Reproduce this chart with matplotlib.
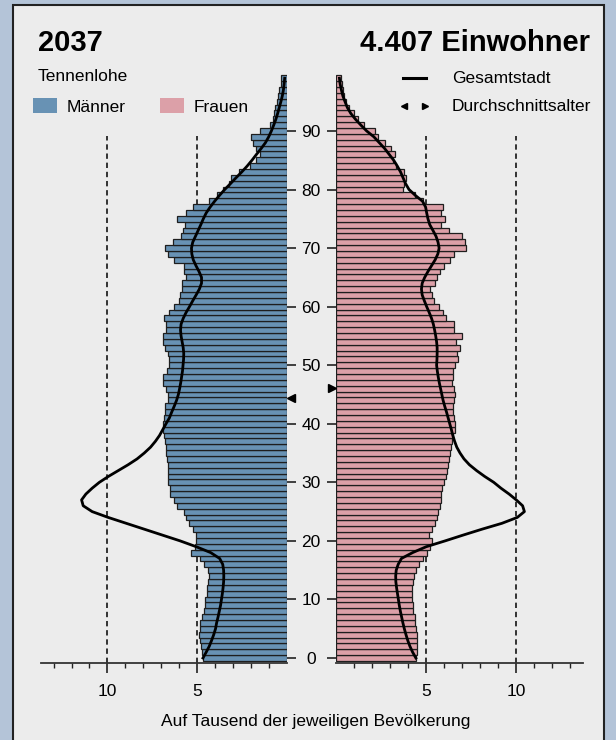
import matplotlib
matplotlib.use("Agg")
import matplotlib.pyplot as plt
import numpy as np
from matplotlib.patches import Rectangle

plt.rcParams['font.family'] = ['Liberation Sans', 'DejaVu Sans']

# ages 0..99
ages = list(range(0, 100))

# Tennenlohe 2037, per 1000 inhabitants
maenner = [4.68, 4.72, 4.78, 4.83, 4.91, 4.87, 4.87, 4.76, 4.63, 4.59,
           4.57, 4.46, 4.46, 4.40, 4.35, 4.38, 4.65, 4.83, 5.34, 5.15,
           5.09, 5.06, 5.24, 5.47, 5.65, 5.76, 6.10, 6.29, 6.51, 6.51,
           6.62, 6.62, 6.64, 6.64, 6.70, 6.74, 6.74, 6.77, 6.83, 6.88,
           6.88, 6.85, 6.77, 6.77, 6.64, 6.64, 6.74, 6.88, 6.92, 6.70,
           6.59, 6.59, 6.62, 6.81, 6.92, 6.88, 6.73, 6.73, 6.83, 6.59,
           6.29, 5.99, 5.95, 5.84, 5.86, 5.62, 5.71, 5.75, 6.27, 6.62,
           6.77, 6.36, 5.90, 5.80, 5.67, 6.14, 5.62, 5.24, 4.37, 3.90,
           3.56, 3.23, 3.10, 2.67, 2.07, 1.75, 1.51, 1.70, 1.88, 2.03,
           1.51, 0.95, 0.76, 0.71, 0.67, 0.58, 0.50, 0.43, 0.35, 0.32]

frauen = [4.46, 4.50, 4.50, 4.50, 4.50, 4.46, 4.37, 4.37, 4.28, 4.28,
          4.24, 4.24, 4.24, 4.28, 4.31, 4.43, 4.61, 4.80, 5.02, 5.20,
          5.30, 5.17, 5.35, 5.50, 5.61, 5.67, 5.76, 5.81, 5.81, 5.87,
          5.98, 6.09, 6.17, 6.22, 6.28, 6.31, 6.39, 6.43, 6.50, 6.61,
          6.61, 6.54, 6.50, 6.50, 6.54, 6.59, 6.57, 6.46, 6.50, 6.50,
          6.60, 6.77, 6.69, 6.88, 6.65, 6.99, 6.54, 6.54, 6.10, 5.95,
          5.72, 5.43, 5.35, 5.20, 5.48, 5.61, 5.76, 5.99, 6.32, 6.54,
          7.21, 7.16, 7.01, 6.26, 5.80, 6.04, 5.82, 5.95, 4.83, 4.37,
          3.72, 3.75, 3.87, 3.75, 3.35, 3.16, 3.25, 3.03, 2.70, 2.32,
          2.16, 1.54, 1.21, 1.02, 0.74, 0.56, 0.46, 0.41, 0.33, 0.28]

# Gesamtstadt reference
stadt_m = [4.68, 4.50, 4.33, 4.20, 4.08, 3.98, 3.92, 3.84, 3.77, 3.70,
           3.65, 3.60, 3.56, 3.53, 3.52, 3.53, 3.58, 3.75, 4.25, 5.05,
           5.95, 6.95, 7.95, 8.95, 9.95, 10.85, 11.35, 11.44, 11.20, 10.85,
           10.45, 9.95, 9.40, 8.85, 8.35, 7.95, 7.60, 7.33, 7.10, 6.92,
           6.74, 6.55, 6.42, 6.28, 6.15, 6.05, 5.98, 5.92, 5.87, 5.82,
           5.79, 5.76, 5.75, 5.78, 5.84, 5.90, 5.93, 5.90, 5.78, 5.62,
           5.43, 5.25, 5.06, 4.88, 4.76, 4.76, 4.90, 5.07, 5.22, 5.30,
           5.32, 5.25, 5.10, 4.95, 4.80, 4.66, 4.50, 4.28, 4.03, 3.76,
           3.47, 3.15, 2.84, 2.52, 2.22, 1.95, 1.70, 1.44, 1.20, 1.02,
           0.87, 0.74, 0.62, 0.52, 0.43, 0.34, 0.26, 0.20, 0.16, 0.13]

stadt_w = [4.43, 4.25, 4.10, 3.98, 3.88, 3.79, 3.71, 3.64, 3.57, 3.51,
           3.46, 3.41, 3.36, 3.32, 3.31, 3.34, 3.45, 3.63, 4.25, 5.00,
           6.05, 7.06, 8.10, 9.20, 10.05, 10.45, 10.35, 10.00, 9.60, 9.15,
           8.75, 8.25, 7.80, 7.40, 7.10, 6.88, 6.70, 6.58, 6.48, 6.40,
           6.31, 6.22, 6.13, 6.03, 5.94, 5.87, 5.80, 5.73, 5.67, 5.62,
           5.58, 5.60, 5.61, 5.61, 5.58, 5.53, 5.47, 5.40, 5.30, 5.17,
           5.03, 4.90, 4.78, 4.74, 4.78, 4.92, 5.10, 5.30, 5.50, 5.65,
           5.72, 5.66, 5.55, 5.38, 5.20, 5.10, 5.03, 4.97, 4.80, 4.40,
           4.05, 3.86, 3.72, 3.58, 3.40, 3.20, 2.95, 2.70, 2.40, 2.10,
           1.70, 1.38, 1.08, 0.82, 0.63, 0.50, 0.38, 0.30, 0.23, 0.19]

avg_m = 44.45
avg_w = 46.05
year = "2037"
einwohner = "4.407 Einwohner"
stadtteil = "Tennenlohe"

blue = '#6892b4'
pink = '#dca0a8'
W, H = 616, 740

fig = plt.figure(figsize=(W / 100, H / 100), dpi=100, facecolor='#b4c4d8')

# background panel + header / legend drawn in pixel coords
bg = fig.add_axes([0, 0, 1, 1])
bg.set_xlim(0, W)
bg.set_ylim(H, 0)
bg.axis('off')
bg.add_patch(Rectangle((13, 5), 591, 745, facecolor='#ececec', edgecolor='#222222', lw=1.5))
bg.text(38, 50.7, year, fontsize=21, fontweight='bold', va='baseline')
bg.text(590, 50.7, einwohner, fontsize=21, fontweight='bold', va='baseline', ha='right')
bg.text(38, 81, stadtteil, fontsize=12.5, va='baseline')
bg.add_patch(Rectangle((33, 98), 24, 15, facecolor=blue, edgecolor='none'))
bg.text(67, 111.7, "Männer", fontsize=12.5, va='baseline')
bg.add_patch(Rectangle((160, 98), 24, 15, facecolor=pink, edgecolor='none'))
bg.text(194, 111.7, "Frauen", fontsize=12.5, va='baseline')
bg.plot([403, 426], [77.5, 77.5], color='black', lw=2.2)
bg.text(452, 83.3, "Gesamtstadt", fontsize=12.5, va='baseline')
bg.plot([404], [106], marker='<', color='black', ms=5)
bg.plot([424.5], [106], marker='>', color='black', ms=5)
bg.text(452, 111, "Durchschnittsalter", fontsize=12.5, va='baseline')
bg.text(316, 726, "Auf Tausend der jeweiligen Bevölkerung", fontsize=12.5, ha='center', va='baseline')

bottom = 1 - 662.7 / H
height = (662.7 - 72.4) / H
axL = fig.add_axes([41 / W, bottom, 246 / W, height])
axR = fig.add_axes([336 / W, bottom, 247 / W, height])

minor = [1, 2, 3, 4, 6, 7, 8, 9, 11, 12, 13]

for ax, vals, line, col, avg, mk in [(axL, maenner, stadt_m, blue, avg_m, '<'),
                                     (axR, frauen, stadt_w, pink, avg_w, '>')]:
    ax.set_facecolor('none')
    for v in [5, 10]:
        ax.plot([v, v], [-0.8, 89.2], color='black', lw=1.1, dashes=(3.5, 2.5), zorder=1)
    ax.barh(ages, vals, height=1, color=col, edgecolor='#1e1e1e', linewidth=0.9, zorder=2)
    ax.plot(line, ages, color='black', lw=2.0, zorder=3)
    ax.plot([-0.22], [avg], marker=mk, color='black', ms=6, clip_on=False, zorder=4)
    ax.set_ylim(-0.8, 100)
    for s in ['top', 'left', 'right']:
        ax.spines[s].set_visible(False)
    ax.spines['bottom'].set_color('#333333')
    ax.spines['bottom'].set_linewidth(1.3)
    ax.set_xticks([5, 10])
    ax.set_xticklabels(['5', '10'])
    ax.set_xticks(minor, minor=True)
    ax.tick_params(axis='x', which='major', direction='out', length=7, width=1.2,
                   labelsize=12.5, pad=8, color='#222222')
    ax.tick_params(axis='x', which='minor', direction='out', length=3.5, width=1.0, color='#222222')
    ax.set_yticks(range(0, 100, 10))

axL.set_xlim(13.7, 0)
axR.set_xlim(0, 13.7)

axL.yaxis.tick_right()
axL.tick_params(axis='y', direction='out', length=6.5, width=1.2, right=True,
                labelright=False, color='#222222')
axR.tick_params(axis='y', direction='out', length=6.5, width=1.2, left=True,
                labelleft=True, labelsize=12.5, pad=11.5, color='#222222')
for lab in axR.get_yticklabels():
    lab.set_horizontalalignment('center')

fig.savefig('out.png', dpi=100, facecolor=fig.get_facecolor())
